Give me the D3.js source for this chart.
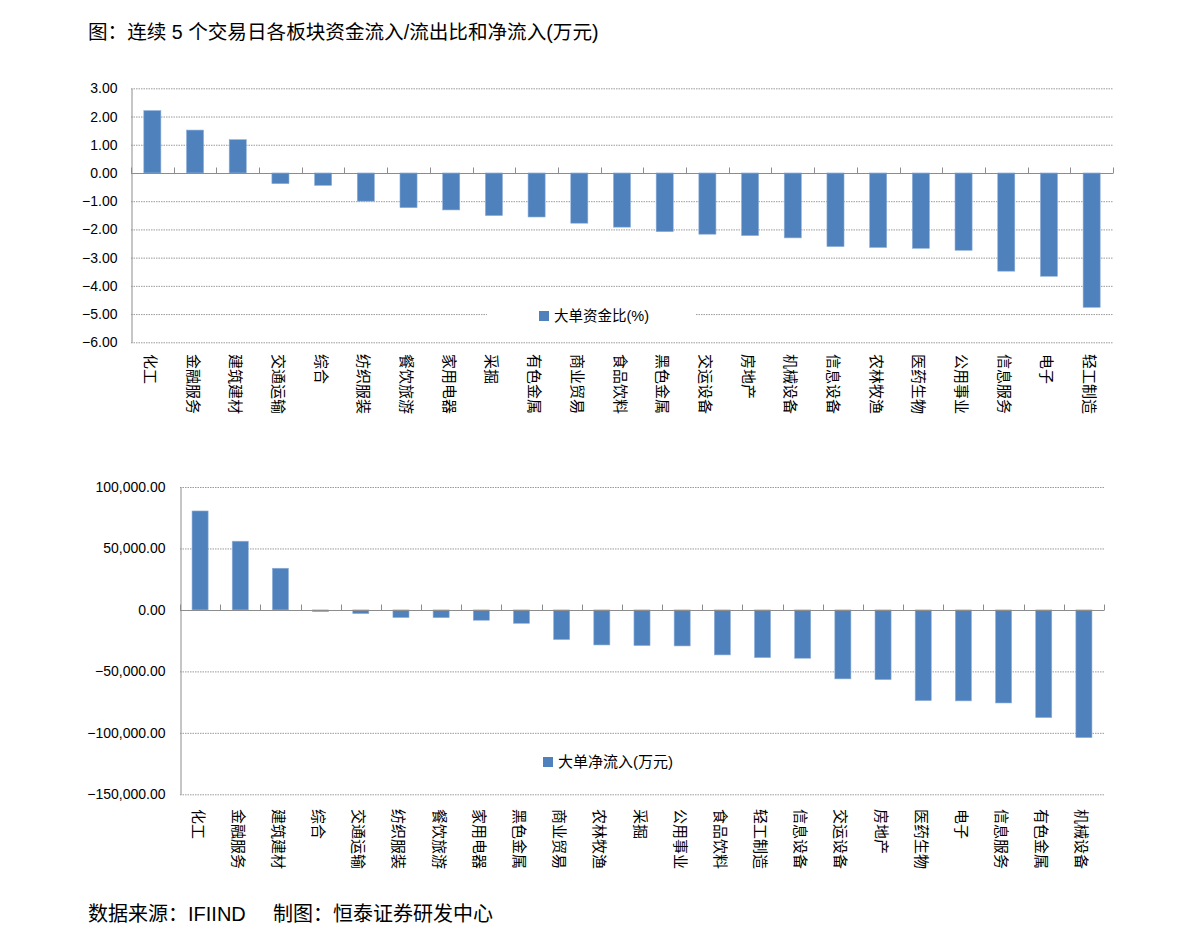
<!DOCTYPE html>
<html><head><meta charset="utf-8">
<script src="https://cdn.jsdelivr.net/npm/d3@7"></script>
<style>
body{margin:0;background:#fff;}
svg{font-family:"Liberation Sans",Arial,"Noto Sans CJK SC",sans-serif;}
</style></head>
<body><svg id="c" width="1191" height="951"></svg>
<script>
const topCats = ["化工","金融服务","建筑建材","交通运输","综合","纺织服装","餐饮旅游","家用电器","采掘","有色金属","商业贸易","食品饮料","黑色金属","交运设备","房地产","机械设备","信息设备","农林牧渔","医药生物","公用事业","信息服务","电子","轻工制造"];
const topVals = [2.21,1.52,1.18,-0.38,-0.44,-1.00,-1.23,-1.31,-1.51,-1.56,-1.78,-1.92,-2.08,-2.17,-2.22,-2.30,-2.61,-2.64,-2.67,-2.74,-3.48,-3.66,-4.76];
const topTicks = [3,2,1,0,-1,-2,-3,-4,-5,-6];

const botCats = ["化工","金融服务","建筑建材","综合","交通运输","纺织服装","餐饮旅游","家用电器","黑色金属","商业贸易","农林牧渔","采掘","公用事业","食品饮料","轻工制造","信息设备","交运设备","房地产","医药生物","电子","信息服务","有色金属","机械设备"];
const botVals = [80500,55900,33900,-1400,-3000,-6200,-6300,-8400,-10900,-24100,-28500,-29000,-29300,-36600,-38800,-39300,-56100,-56700,-73800,-74000,-75700,-87600,-103900];
const botTicks = [100000,50000,0,-50000,-100000,-150000];

const title = "图：连续 5 个交易日各板块资金流入/流出比和净流入(万元)";
const legendTop = "大单资金比(%)";
const legendBot = "大单净流入(万元)";
const source1 = "数据来源：IFIIND";
const source2 = "制图：恒泰证券研发中心";

const svg = d3.select("#c");
const BAR = "#4f81bd";

svg.append("text").attr("x",88).attr("y",39).attr("font-size",19.6).attr("fill","#000").text(title);
svg.append("text").attr("x",88).attr("y",921).attr("font-size",20).attr("fill","#000").text(source1);
svg.append("text").attr("x",273).attr("y",921).attr("font-size",20).attr("fill","#000").text(source2);

function drawChart(cfg){
  const g = svg.append("g");
  const x = d3.scaleBand().domain(cfg.cats).range([cfg.x0,cfg.x1]).paddingInner(0.6).paddingOuter(0.3);
  const y = d3.scaleLinear().domain([cfg.ticks[cfg.ticks.length-1],cfg.ticks[0]]).range([cfg.y1,cfg.y0]);
  // gridlines
  g.append("g").selectAll("line").data(cfg.ticks.filter(t=>t!==0)).join("line")
    .attr("x1",cfg.x0).attr("x2",cfg.x1).attr("y1",d=>y(d)+0.5).attr("y2",d=>y(d)+0.5)
    .attr("stroke","#9a9a9a").attr("stroke-width",1).attr("stroke-dasharray","1.5,1");
  // legend background + legend
  const lg = g.append("g");
  if(cfg.legBg) lg.append("rect").attr("x",cfg.legBg[0]).attr("y",cfg.legBg[1]).attr("width",cfg.legBg[2]).attr("height",cfg.legBg[3]).attr("fill","#fff");
  lg.append("rect").attr("x",cfg.legX).attr("y",cfg.legY-5).attr("width",10).attr("height",10).attr("fill",BAR);
  lg.append("text").attr("x",cfg.legX+15).attr("y",cfg.legY).attr("dy","0.35em").attr("font-size",cfg.legFs).attr("fill","#000").text(cfg.legend);
  // bars
  g.append("g").selectAll("rect").data(cfg.vals).join("rect")
    .attr("x",(d,i)=>x(cfg.cats[i]))
    .attr("width",x.bandwidth())
    .attr("y",d=>y(Math.max(0,d)))
    .attr("height",d=>Math.abs(y(d)-y(0)))
    .attr("fill",BAR).attr("stroke","#8fb0d9").attr("stroke-width",0.6);
  // y axis
  const ya = d3.axisLeft(y).tickValues(cfg.ticks).tickFormat(d3.format(",.2f")).tickSize(0).tickPadding(cfg.tickPad);
  const yg = g.append("g").attr("transform",`translate(${cfg.x0+0.5},0)`).call(ya);
  yg.select(".domain").attr("stroke","#8c8c8c");
  yg.selectAll("text").attr("font-size",14).attr("fill","#000").attr("font-family","'Liberation Sans',Arial,sans-serif");
  // zero axis line with ticks between categories
  const z = Math.round(y(0))+0.5;
  g.append("line").attr("x1",cfg.x0).attr("x2",cfg.x1).attr("y1",z).attr("y2",z).attr("stroke","#8c8c8c");
  const step = x.step();
  g.append("g").selectAll("line").data(d3.range(cfg.cats.length+1)).join("line")
    .attr("x1",i=>Math.round(cfg.x0+i*step)+0.5).attr("x2",i=>Math.round(cfg.x0+i*step)+0.5)
    .attr("y1",z).attr("y2",z-6).attr("stroke","#8c8c8c");
  // category labels (rotated)
  g.append("g").selectAll("text").data(cfg.cats).join("text")
    .attr("transform",d=>`translate(${x(d)+x.bandwidth()/2-1},${cfg.labY}) rotate(90)`)
    .attr("dominant-baseline","central").attr("font-size",15).attr("fill","#000")
    .attr("font-family","'Noto Sans CJK SC',sans-serif")
    .text(d=>d);
}

drawChart({cats:topCats,vals:topVals,ticks:topTicks,x0:131,x1:1113,y0:88.3,y1:342.3,tickPad:14,
  labY:354,legend:legendTop,legFs:14.5,legX:539,legY:316,legBg:[487,302,208,26]});
drawChart({cats:botCats,vals:botVals,ticks:botTicks,x0:180,x1:1104,y0:487,y1:794.3,tickPad:15,
  labY:809,legend:legendBot,legFs:15,legX:543,legY:762,legBg:null});
</script></body></html>
